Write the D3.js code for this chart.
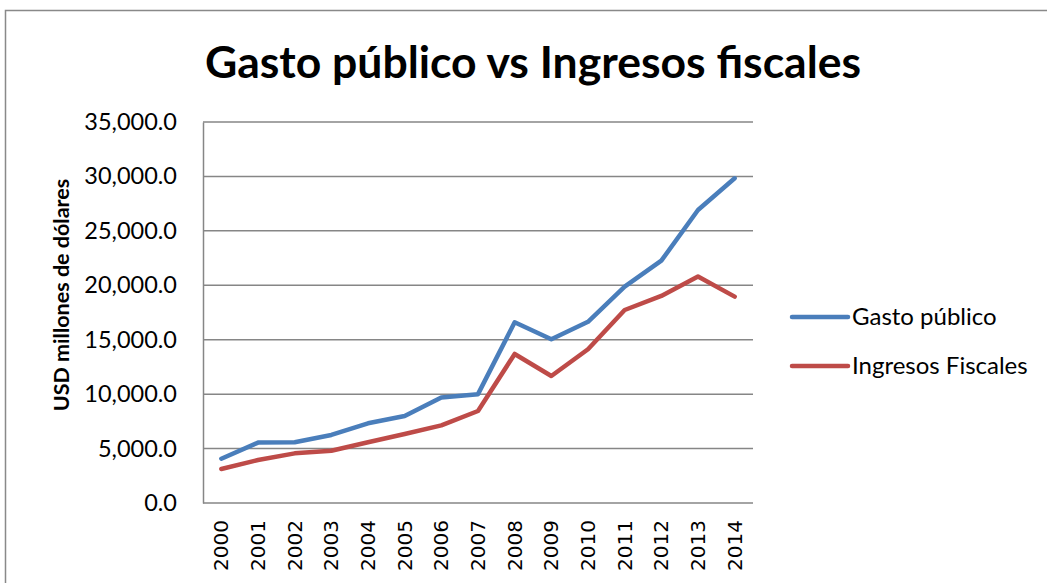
<!DOCTYPE html>
<html>
<head>
  <meta charset="utf-8">
  <title>Gasto público vs Ingresos fiscales</title>
  <script src="https://d3js.org/d3.v7.min.js"></script>
  <style>
    body { margin: 0; background: #fff; }
    svg { display: block; }
  </style>
</head>
<body>
  <div id="chart"></div>

  <script>
    // data
    var years = ['2000', '2001', '2002', '2003', '2004', '2005', '2006', '2007',
                 '2008', '2009', '2010', '2011', '2012', '2013', '2014'];
    var gastoPublico = [4070, 5550, 5580, 6250, 7320, 7990, 9700, 10000,
                        16600, 15040, 16650, 19870, 22260, 26920, 29830];
    var ingresosFiscales = [3120, 3950, 4560, 4800, 5580, 6340, 7130, 8450,
                            13690, 11670, 14120, 17730, 19020, 20800, 18960];
    var yTicks = [0, 5000, 10000, 15000, 20000, 25000, 30000, 35000];
    var seriesNames = ['Gasto público', 'Ingresos Fiscales'];
    var seriesColors = ['#4a7ebb', '#be4b48'];

    var W = 1047, H = 583;
    var margin = { top: 122, right: 294, bottom: 80, left: 203 };
    var width = W - margin.left - margin.right;
    var height = H - margin.top - margin.bottom;
    var font = 'Lato, "Open Sans", sans-serif';

    var svg = d3.select('#chart').append('svg')
      .attr('width', W)
      .attr('height', H);

    // outer chart border
    svg.append('rect')
      .attr('x', 5.5).attr('y', 10.5)
      .attr('width', 1060).attr('height', 600)
      .attr('fill', 'none')
      .attr('stroke', '#898989')
      .attr('stroke-width', 1.5);

    svg.append('text')
      .attr('x', 533)
      .attr('y', 78)
      .attr('text-anchor', 'middle')
      .style('font-family', font)
      .style('font-weight', 'bold')
      .style('font-size', '44.5px')
      .text('Gasto público vs Ingresos fiscales');

    var g = svg.append('g')
      .attr('transform', 'translate(' + margin.left + ',' + margin.top + ')');

    var x = d3.scaleBand()
      .domain(years)
      .range([0, width]);

    var y = d3.scaleLinear()
      .domain([0, 35000])
      .range([height, 0]);

    // gridlines
    g.append('g')
      .selectAll('line')
      .data(yTicks)
      .enter()
      .append('line')
      .attr('x1', 0)
      .attr('x2', width)
      .attr('y1', function(d) { return y(d); })
      .attr('y2', function(d) { return y(d); })
      .attr('stroke', '#868686')
      .attr('stroke-width', 1.5);

    // y axis
    var yAxis = g.append('g')
      .call(d3.axisLeft(y).tickValues(yTicks).tickSize(0).tickPadding(26)
        .tickFormat(function(d) { return d3.format(',.1f')(d); }));
    yAxis.select('.domain')
      .attr('stroke', '#868686')
      .attr('stroke-width', 1.5);
    yAxis.selectAll('text')
      .style('font-family', font)
      .style('font-size', '23.5px')
      .attr('fill', '#000');

    // x axis
    var xAxis = g.append('g')
      .attr('transform', 'translate(0,' + height + ')')
      .call(d3.axisBottom(x).tickSize(0).tickPadding(0));
    xAxis.select('.domain').remove();
    xAxis.selectAll('text')
      .attr('transform', 'rotate(-90)')
      .attr('text-anchor', 'end')
      .attr('x', -17)
      .attr('y', 0)
      .attr('dy', '0.35em')
      .style('font-family', '"DejaVu Sans", sans-serif')
      .style('font-size', '20px')
      .attr('fill', '#000');

    // y axis title
    svg.append('text')
      .attr('transform', 'translate(61,295) rotate(-90)')
      .attr('text-anchor', 'middle')
      .attr('dy', '0.35em')
      .style('font-family', font)
      .style('font-weight', 'bold')
      .style('font-size', '21.5px')
      .text('USD millones de dólares');

    // lines
    var line = d3.line()
      .x(function(d, i) { return x(years[i]) + x.bandwidth() / 2; })
      .y(function(d) { return y(d); });

    [gastoPublico, ingresosFiscales].forEach(function(vals, i) {
      g.append('path')
        .datum(vals)
        .attr('fill', 'none')
        .attr('stroke', seriesColors[i])
        .attr('stroke-width', 4.5)
        .attr('stroke-linejoin', 'round')
        .attr('stroke-linecap', 'round')
        .attr('d', line);
    });

    // legend
    var legend = svg.append('g')
      .attr('transform', 'translate(792,317)');
    var items = legend.selectAll('g')
      .data(seriesNames)
      .enter()
      .append('g')
      .attr('transform', function(d, i) { return 'translate(0,' + (i * 49) + ')'; });
    items.append('line')
      .attr('x1', 0).attr('x2', 56)
      .attr('stroke', function(d, i) { return seriesColors[i]; })
      .attr('stroke-width', 4.5)
      .attr('stroke-linecap', 'round');
    items.append('text')
      .attr('x', 60)
      .attr('dy', '0.35em')
      .style('font-family', font)
      .style('font-size', '24px')
      .text(function(d) { return d; });
  </script>
</body>
</html>
